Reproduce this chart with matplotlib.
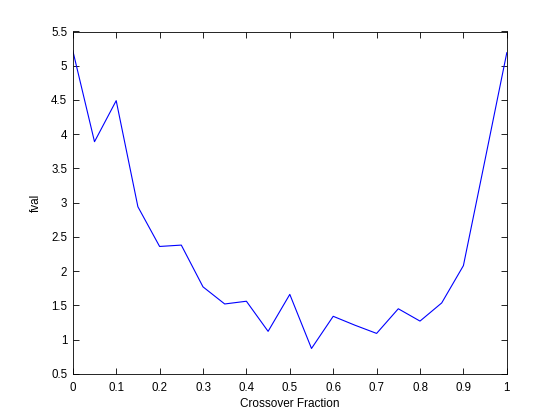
import matplotlib
matplotlib.use("Agg")
import matplotlib.pyplot as plt

plt.rcParams['font.family'] = ['Liberation Sans', 'DejaVu Sans']

crossover = [0, 0.05, 0.1, 0.15, 0.2, 0.25, 0.3, 0.35, 0.4, 0.45, 0.5,
             0.55, 0.6, 0.65, 0.7, 0.75, 0.8, 0.85, 0.9, 0.95, 1.0]
fval = [5.22, 3.89, 4.49, 2.94, 2.36, 2.38, 1.77, 1.52, 1.56, 1.12, 1.66,
        0.87, 1.34, 1.21, 1.09, 1.45, 1.27, 1.535, 2.08, 3.63, 5.19]
xticks = [0, 0.1, 0.2, 0.3, 0.4, 0.5, 0.6, 0.7, 0.8, 0.9, 1]
yticks = [0.5, 1, 1.5, 2, 2.5, 3, 3.5, 4, 4.5, 5, 5.5]
xtick_labels = ['0', '0.1', '0.2', '0.3', '0.4', '0.5', '0.6', '0.7', '0.8', '0.9', '1']
ytick_labels = ['0.5', '1', '1.5', '2', '2.5', '3', '3.5', '4', '4.5', '5', '5.5']

fig = plt.figure(figsize=(5.6, 4.2), dpi=100)
ax = fig.add_axes([0.13, 0.11, 0.775, 0.815])
ax.plot(crossover, fval, color='#0000ff', linewidth=0.8)
ax.set_xlim(0, 1)
ax.set_ylim(0.5, 5.5)
ax.set_xticks(xticks)
ax.set_xticklabels(xtick_labels)
ax.set_yticks(yticks)
ax.set_yticklabels(ytick_labels)
ax.tick_params(direction='in', top=True, right=True, labelsize=8.3, length=4, width=0.6)
ax.tick_params(axis='x', pad=6)
ax.tick_params(axis='y', pad=4)
for s in ax.spines.values():
    s.set_linewidth(0.6)
ax.set_xlabel('Crossover Fraction', fontsize=8.5, labelpad=3)
ax.set_ylabel('fval', fontsize=8.5, labelpad=7)
fig.savefig('out.png', dpi=100)
